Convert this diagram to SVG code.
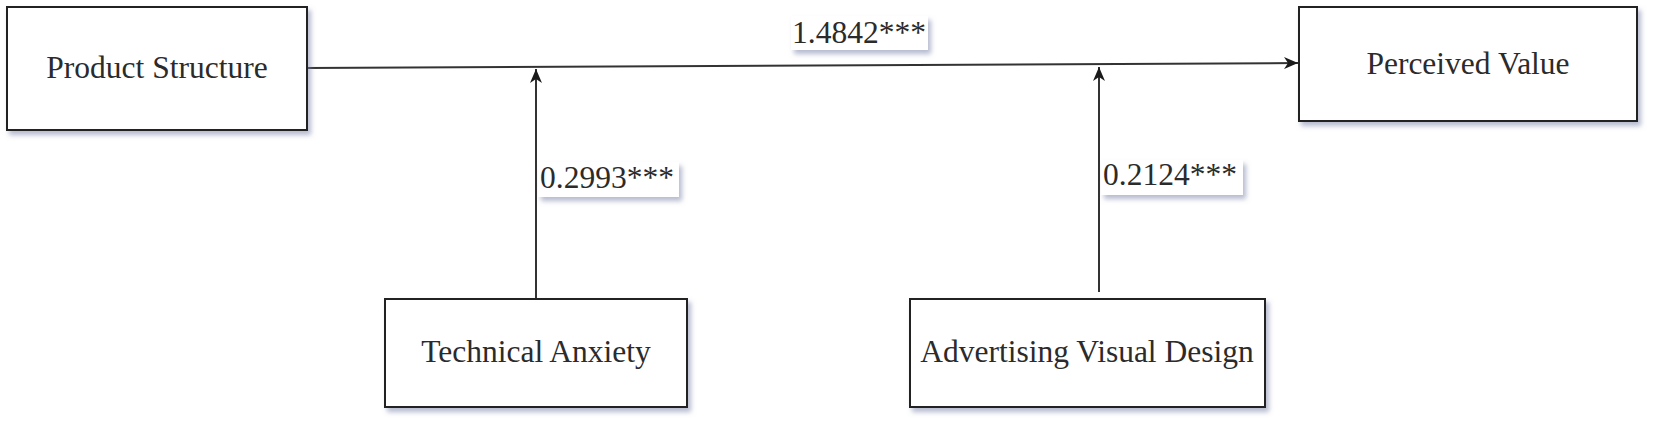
<svg xmlns="http://www.w3.org/2000/svg" width="1654" height="422" viewBox="0 0 1654 422">
  <defs>
    <filter id="shadow" x="-10%" y="-10%" width="130%" height="140%">
      <feDropShadow dx="3" dy="4" stdDeviation="2.5" flood-color="#7a82a8" flood-opacity="0.55"/>
    </filter>
    <marker id="arrow" viewBox="0 0 14 12" refX="14" refY="6" markerWidth="14" markerHeight="12" markerUnits="userSpaceOnUse" orient="auto">
      <path d="M0,0 L14,6 L0,12 L4,6 Z" fill="#1a1a1a"/>
    </marker>
    <style>
      .box { fill: #ffffff; stroke: #222222; stroke-width: 2; filter: url(#shadow); }
      .lblbg { fill: #ffffff; filter: url(#shadow); }
      .txt { font-family: "Liberation Serif", "Times New Roman", serif; font-size: 31.5px; fill: #2b2b2b; }
      .conn { stroke: #333333; stroke-width: 2; fill: none; marker-end: url(#arrow); }
    </style>
  </defs>

  <g id="connectors">
    <line class="conn" x1="307" y1="68" x2="1298" y2="63"/>
    <line class="conn" x1="536" y1="299" x2="536" y2="69"/>
    <line class="conn" x1="1099" y1="292" x2="1099" y2="67"/>
  </g>

  <g id="label-main">
    <rect class="lblbg" x="791" y="16" width="137" height="34"/>
    <text class="txt" x="859" y="43" text-anchor="middle">1.4842***</text>
  </g>
  <g id="label-ta">
    <rect class="lblbg" x="538" y="162" width="141" height="35"/>
    <text class="txt" x="540" y="188">0.2993***</text>
  </g>
  <g id="label-avd">
    <rect class="lblbg" x="1101" y="160" width="142" height="35"/>
    <text class="txt" x="1103" y="185">0.2124***</text>
  </g>

  <g id="node-product-structure">
    <rect class="box" x="7" y="7" width="300" height="123"/>
    <text class="txt" x="157" y="78" text-anchor="middle">Product Structure</text>
  </g>
  <g id="node-perceived-value">
    <rect class="box" x="1299" y="7" width="338" height="114"/>
    <text class="txt" x="1468" y="74" text-anchor="middle">Perceived Value</text>
  </g>
  <g id="node-technical-anxiety">
    <rect class="box" x="385" y="299" width="302" height="108"/>
    <text class="txt" x="536" y="362" text-anchor="middle">Technical Anxiety</text>
  </g>
  <g id="node-advertising-visual-design">
    <rect class="box" x="910" y="299" width="355" height="108"/>
    <text class="txt" x="1087" y="362" text-anchor="middle">Advertising Visual Design</text>
  </g>
</svg>
